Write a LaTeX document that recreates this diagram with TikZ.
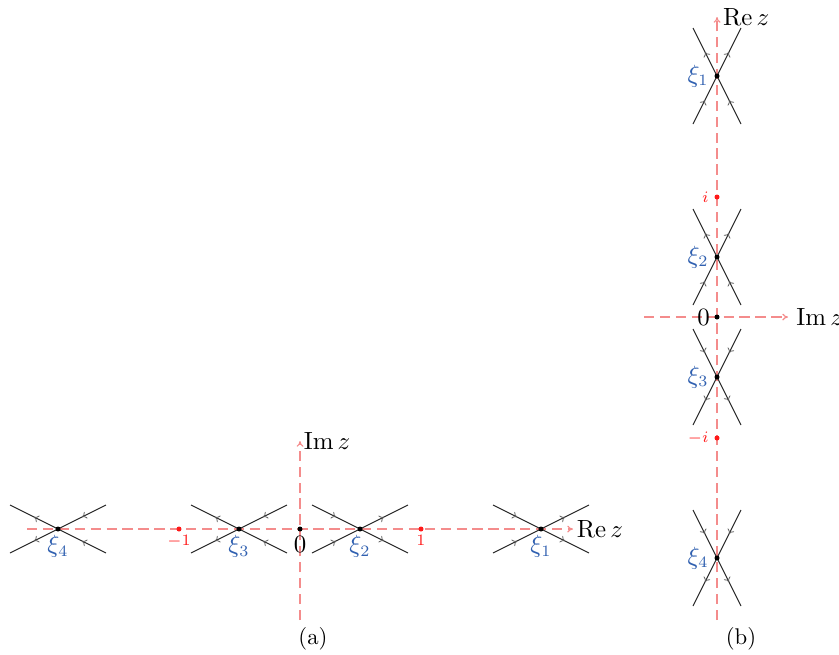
\documentclass[tikz,border=0pt]{standalone}
\usetikzlibrary{arrows.meta,decorations.markings,calc}
\definecolor{xiblue}{RGB}{48,96,176}
\definecolor{axred}{RGB}{244,140,140}
\tikzset{
  axis/.style={axred, dashed, dash pattern=on 4.5pt off 2.5pt, line width=0.5pt, -{To[length=2.5pt,width=3pt]}},
  ray/.style={black!85, line width=0.45pt,
    postaction={decorate, decoration={markings,
      mark=at position 0.25 with {\arrow[black!65, line width=0.35pt]{To[length=2pt,width=3.2pt]}},
      mark=at position 0.75 with {\arrow[black!65, line width=0.35pt]{To[length=2pt,width=3.2pt]}}}}},
  sp/.style={circle, fill=black, inner sep=0pt, minimum size=2.2pt},
  rp/.style={circle, fill=red!90, inner sep=0pt, minimum size=2.2pt},
  xilab/.style={text=xiblue, inner sep=2.5pt, font=\fontsize{10.5}{12}\selectfont},
  rlab/.style={text=red!90, font=\scriptsize, inner sep=2.5pt},
  zlab/.style={inner sep=3pt, font=\fontsize{10.5}{12}\selectfont},
  axlab/.style={inner sep=1.5pt, anchor=west, font=\fontsize{10.5}{12}\selectfont},
}
\begin{document}
\begin{tikzpicture}[x=0.44pt, y=-0.44pt]
\useasboundingbox (0,0) rectangle (839,654);
% ---------------- panel (a) ----------------
\coordinate (aO) at (300,529);
\coordinate (aRe0) at (27,529);
\coordinate (aRe1) at (573,529);
\coordinate (aIm0) at (300,620);
\coordinate (aIm1) at (300,441);
\draw[axis] (aRe0) -- (aRe1);
\draw[axis] (aIm0) -- (aIm1);
\node[axlab] at (aRe1) {$\mathrm{Re}\,z$};
\node[axlab] at (aIm1) {$\mathrm{Im}\,z$};
\coordinate (a1) at (541,529);
\coordinate (a2) at (360,529);
\coordinate (a3) at (239,529);
\coordinate (a4) at (58,529);
% rightward flows
\foreach \c in {a1,a2}{
  \draw[ray] ($(\c)+(-48,-24)$) -- ($(\c)+(48,24)$);
  \draw[ray] ($(\c)+(-48,24)$) -- ($(\c)+(48,-24)$);
}
% leftward flows
\foreach \c in {a3,a4}{
  \draw[ray] ($(\c)+(48,24)$) -- ($(\c)+(-48,-24)$);
  \draw[ray] ($(\c)+(48,-24)$) -- ($(\c)+(-48,24)$);
}
\node[sp] (na1) at (a1) {};
\node[sp] (na2) at (a2) {};
\node[sp] (na3) at (a3) {};
\node[sp] (na4) at (a4) {};
\node[sp] (naO) at (aO) {};
\node[xilab, below] at (a1) {$\xi_1$};
\node[xilab, below] at (a2) {$\xi_2$};
\node[xilab, below] at (a3) {$\xi_3$};
\node[xilab, below] at (a4) {$\xi_4$};
\node[zlab, below] at (aO) {$0$};
\node[rp] (am1) at (179,529) {};
\node[rp] (ap1) at (421,529) {};
\node[rlab, below] at (am1) {$-1$};
\node[rlab, below] at (ap1) {$1$};
\node (capa) at (313,639) {(a)};
% ---------------- panel (b) ----------------
\coordinate (bO) at (717,317);
\coordinate (bRe0) at (717,620);
\coordinate (bRe1) at (717,17);
\coordinate (bIm0) at (644,317);
\coordinate (bIm1) at (788,317);
\draw[axis] (bRe0) -- (bRe1);
\draw[axis] (bIm0) -- (bIm1);
\node[axlab, xshift=1pt] at (bRe1) {$\mathrm{Re}\,z$};
\node[axlab, xshift=2pt] at (bIm1) {$\mathrm{Im}\,z$};
\coordinate (b1) at (717,76);
\coordinate (b2) at (717,257);
\coordinate (b3) at (717,377);
\coordinate (b4) at (717,558);
% upward flows
\foreach \c in {b1,b2}{
  \draw[ray] ($(\c)+(-24,48)$) -- ($(\c)+(24,-48)$);
  \draw[ray] ($(\c)+(24,48)$) -- ($(\c)+(-24,-48)$);
}
% downward flows
\foreach \c in {b3,b4}{
  \draw[ray] ($(\c)+(24,-48)$) -- ($(\c)+(-24,48)$);
  \draw[ray] ($(\c)+(-24,-48)$) -- ($(\c)+(24,48)$);
}
\node[sp] (nb1) at (b1) {};
\node[sp] (nb2) at (b2) {};
\node[sp] (nb3) at (b3) {};
\node[sp] (nb4) at (b4) {};
\node[sp] (nbO) at (bO) {};
\node[xilab, left, xshift=-1pt] at (b1) {$\xi_1$};
\node[xilab, left, xshift=-1pt] at (b2) {$\xi_2$};
\node[xilab, left, xshift=-1pt] at (b3) {$\xi_3$};
\node[xilab, left, xshift=-1pt] at (b4) {$\xi_4$};
\node[zlab, left] at (bO) {$0$};
\node[rp] (bpi) at (717,197) {};
\node[rp] (bmi) at (717,438) {};
\node[rlab, left, xshift=-1pt] at (bpi) {$i$};
\node[rlab, left, xshift=-1pt] at (bmi) {$-i$};
\node (capb) at (741,639) {(b)};
\end{tikzpicture}
\end{document}
